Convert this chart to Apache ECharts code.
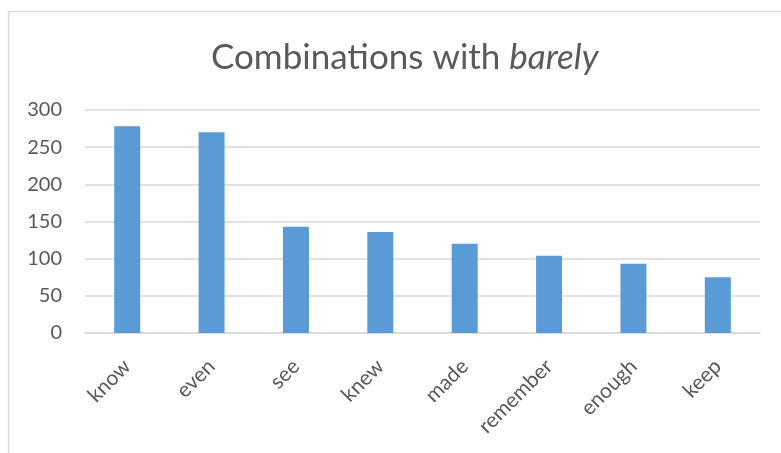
<!DOCTYPE html>
<html>
<head>
<meta charset="utf-8">
<script src="https://cdn.jsdelivr.net/npm/echarts@6/dist/echarts.min.js"></script>
<style>
  html, body { margin: 0; padding: 0; background: #fff; }
  #chart { width: 781px; height: 453px; }
</style>
</head>
<body>
<div id="chart"></div>
<script>
var words = ['know', 'even', 'see', 'knew', 'made', 'remember', 'enough', 'keep'];
var counts = [278, 270, 143, 136, 120, 104, 93, 75];
var yTicks = [0, 50, 100, 150, 200, 250, 300];

var textColor = '#595959';
var fontName = 'Lato';

var myChart = echarts.init(document.getElementById('chart'));
var option = {
  animation: false,
  backgroundColor: '#fff',
  graphic: [
    {
      type: 'polyline',
      shape: { points: [[8.5, 460], [8.5, 11.5], [790, 11.5]] },
      style: { stroke: '#d9d9d9', lineWidth: 1.5, fill: null }
    }
  ],
  title: {
    text: 'Combinations with {i|barely}',
    left: 206,
    top: 35,
    textStyle: {
      color: textColor,
      fontFamily: fontName,
      fontWeight: 'normal',
      fontSize: 35,
      rich: {
        i: { fontStyle: 'italic', fontFamily: fontName, fontWeight: 'normal', fontSize: 35, color: textColor }
      }
    }
  },
  grid: { left: 85, right: 21, top: 110, bottom: 120, containLabel: false },
  xAxis: {
    type: 'category',
    data: words,
    axisLine: { lineStyle: { color: '#d9d9d9', width: 1.5 } },
    axisTick: { show: false },
    axisLabel: {
      rotate: 45,
      margin: 30,
      color: textColor,
      fontFamily: fontName,
      fontSize: 21,
      interval: 0
    }
  },
  yAxis: {
    type: 'value',
    min: yTicks[0],
    max: yTicks[yTicks.length - 1],
    interval: yTicks[1] - yTicks[0],
    axisLine: { show: false },
    axisTick: { show: false },
    splitLine: { lineStyle: { color: '#d9d9d9', width: 1.5 } },
    axisLabel: {
      margin: 23,
      color: textColor,
      fontFamily: fontName,
      fontSize: 20
    }
  },
  series: [
    {
      type: 'bar',
      data: counts,
      barWidth: 26,
      itemStyle: { color: '#5b9bd5' }
    }
  ]
};
myChart.setOption(option);
</script>
</body>
</html>
